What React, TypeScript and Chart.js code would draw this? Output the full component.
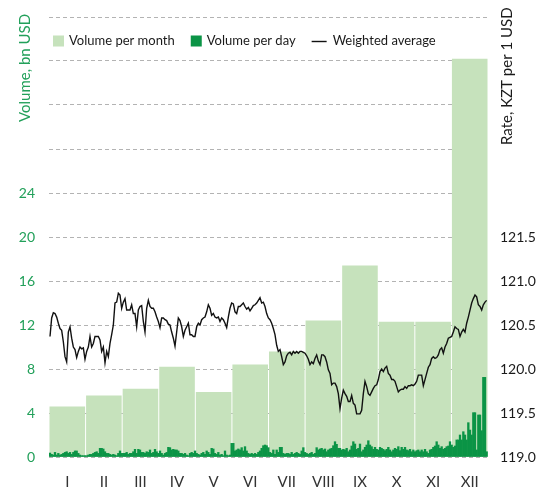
import React, { useEffect, useRef } from 'react';
import { Chart, registerables } from 'chart.js';

Chart.register(...registerables);

const months = ['I', 'II', 'III', 'IV', 'V', 'VI', 'VII', 'VIII', 'IX', 'X', 'XI', 'XII'];
const monthlyVolume = [4.6, 5.6, 6.2, 8.2, 5.9, 8.4, 9.6, 12.4, 17.4, 12.3, 12.3, 36.2];

const dailyVolume = [
  0.36, 0.24, 0.18, 0.42, 0.18, 0.33, 0.18, 0.24, 0.33, 0.42,
  0.48, 0.33, 0.42, 0.24, 0.42, 0.55, 0.55, 0.33, 0.18, 0.12,
  0.12, 0.12, 0.12, 0.18, 0.24, 0.24, 0.33, 0.42, 0.48, 0.33,
  0.79, 0.79, 0.73, 0.48, 0.33, 0.33, 0.24, 0.18, 0.24, 0.18,
  0.12, 0.33, 0.55, 0.33, 0.33, 0.33, 0.42, 0.24, 0.33, 0.33,
  0.48, 0.70, 0.33, 0.70, 0.64, 0.42, 0.42, 0.33, 0.48, 0.42,
  0.64, 0.33, 0.42, 0.70, 0.48, 0.33, 0.55, 0.33, 0.18, 0.33,
  0.42, 0.88, 0.85, 0.64, 0.70, 0.64, 0.64, 0.55, 0.33, 0.33,
  0.24, 0.33, 0.18, 0.12, 0.33, 0.42, 0.33,
  0.55, 0.33, 0.24, 0.18, 0.33, 0.42, 0.24, 0.55, 0.42, 0.24,
  0.79, 0.73, 0.33, 0.24, 0.42, 0.18, 0.24, 0.12, 0.55, 0.18,
  0.12, 0.18, 1.24, 1.24, 0.55, 0.64, 0.73, 0.64, 0.85, 0.55,
  0.94, 0.55, 0.33, 0.24, 0.33, 0.24, 0.33, 0.24, 0.42, 0.55,
  0.79, 1.03, 1.09, 1.03, 0.85, 0.42, 0.33, 0.64, 0.24, 0.64,
  0.42, 0.88, 0.88, 0.33, 0.24, 0.33, 0.33, 0.24, 0.42, 0.24,
  0.33, 0.42, 0.33, 0.24, 0.55, 0.85, 0.42, 0.33, 0.24, 0.33,
  0.42, 0.24, 0.33, 0.85, 0.64, 0.73, 0.79, 0.64, 0.73, 0.48,
  0.64, 0.73, 0.79, 1.03, 1.39, 1.15, 0.79,
  0.79, 0.64, 0.70, 0.64, 0.79, 0.48, 0.64, 1.00, 1.39, 1.18,
  0.70, 0.79, 1.18, 0.48, 0.64, 0.88, 1.09, 1.48, 1.09, 0.94,
  0.70, 0.88, 0.70, 0.64, 0.88, 0.79, 0.70, 0.58, 0.70, 0.88,
  0.64, 0.48, 0.64, 0.79, 0.70, 0.94, 0.58, 0.88, 0.70, 0.88,
  0.64, 0.58, 0.70, 0.48, 0.64, 0.48, 0.58, 0.64, 0.48, 0.64,
  0.48, 0.70, 0.48, 0.33, 0.64, 0.70, 0.88, 1.00, 1.39, 1.09,
  0.79, 0.94, 0.70, 0.79, 0.94, 1.00, 1.39, 1.09, 0.88, 1.00,
  1.55, 1.55, 2.00, 1.55, 2.30, 2.00, 1.55, 3.12, 2.45, 2.00,
  4.03, 4.03, 0.64, 3.82, 3.82, 2.39, 7.24, 7.24, 0.48,
];

const weightedRate = [
  120.37, 120.58, 120.64, 120.63, 120.59, 120.52, 120.46, 120.44, 120.31, 120.14,
  120.08, 120.42, 120.48, 120.35, 120.25, 120.22, 120.13, 120.20, 120.25, 120.23,
  120.24, 120.11, 120.20, 120.25, 120.37, 120.25, 120.29, 120.37, 120.37, 120.37,
  120.33, 120.20, 120.25, 120.07, 120.20, 120.14, 120.29, 120.39, 120.50, 120.75,
  120.76, 120.86, 120.84, 120.69, 120.76, 120.80, 120.67, 120.67, 120.67, 120.73,
  120.63, 120.63, 120.48, 120.67, 120.71, 120.72, 120.54, 120.42, 120.69, 120.78,
  120.71, 120.69, 120.69, 120.65, 120.59, 120.54, 120.47, 120.58, 120.58, 120.56,
  120.55, 120.51, 120.50, 120.42, 120.35, 120.26, 120.42, 120.58, 120.55, 120.48,
  120.37, 120.44, 120.48, 120.52, 120.39, 120.39, 120.37,
  120.37, 120.48, 120.52, 120.50, 120.56, 120.58, 120.59, 120.65, 120.73, 120.69,
  120.61, 120.63, 120.59, 120.58, 120.59, 120.54, 120.58, 120.56, 120.52, 120.47,
  120.59, 120.69, 120.75, 120.74, 120.65, 120.63, 120.71, 120.71, 120.73, 120.75,
  120.71, 120.68, 120.70, 120.66, 120.69, 120.72, 120.73, 120.75, 120.78, 120.81,
  120.75, 120.76, 120.71, 120.63, 120.58, 120.56, 120.52, 120.46, 120.39, 120.27,
  120.20, 120.22, 120.14, 120.05, 120.08, 120.15, 120.18, 120.19, 120.16, 120.20,
  120.18, 120.20, 120.18, 120.20, 120.20, 120.19, 120.18, 120.15, 120.11, 120.05,
  120.08, 120.06, 120.12, 120.16, 120.09, 120.05, 120.16, 120.16, 120.14, 120.08,
  119.99, 119.95, 119.82, 119.84, 119.84, 119.80, 119.72,
  119.55, 119.67, 119.76, 119.72, 119.69, 119.63, 119.63, 119.70, 119.61, 119.59,
  119.49, 119.49, 119.49, 119.53, 119.72, 119.86, 119.80, 119.72, 119.70, 119.74,
  119.78, 119.81, 119.82, 119.88, 119.97, 120.00, 119.97, 120.01, 120.03, 119.95,
  119.93, 119.88, 119.88, 119.86, 119.80, 119.74, 119.76, 119.77, 119.77, 119.80,
  119.78, 119.81, 119.81, 119.82, 119.81, 119.83, 119.86, 119.93, 119.93, 119.93,
  119.81, 119.88, 119.95, 120.02, 120.05, 120.12, 120.14, 120.12, 120.13, 120.16,
  120.22, 120.24, 120.18, 120.25, 120.29, 120.35, 120.36, 120.37, 120.42, 120.48,
  120.46, 120.45, 120.37, 120.42, 120.45, 120.42, 120.52, 120.59, 120.67, 120.75,
  120.80, 120.84, 120.82, 120.73, 120.71, 120.67, 120.73, 120.76, 120.78,
];

const volumeTickMaxLabel = 24;
const rateTickMaxLabel = 121.5;

const LIGHT = '#c6e2bc';
const DARK = '#0b9446';
const GREEN_TEXT = '#22a05a';
const FONT = 'Lato';

const overlayPlugin = {
  id: 'overlay',
  afterDraw(chart: any) {
    const ctx = chart.ctx as CanvasRenderingContext2D;
    ctx.save();
    // axis titles
    ctx.font = `15px ${FONT}`;
    ctx.textBaseline = 'middle';
    ctx.textAlign = 'left';
    ctx.fillStyle = GREEN_TEXT;
    ctx.save();
    ctx.translate(25, 122);
    ctx.rotate(-Math.PI / 2);
    ctx.fillText('Volume, bn USD', 0, 0);
    ctx.restore();
    ctx.fillStyle = '#1a1a1a';
    ctx.save();
    ctx.translate(507, 145);
    ctx.rotate(-Math.PI / 2);
    ctx.fillText('Rate, KZT per 1 USD', 0, 0);
    ctx.restore();

    // legend
    ctx.font = `13px ${FONT}`;
    ctx.fillStyle = '#1a1a1a';
    const y = 41;
    let x = 53;
    const items = [
      { kind: 'box', color: LIGHT, label: 'Volume per month' },
      { kind: 'box', color: DARK, label: 'Volume per day' },
      { kind: 'line', color: '#111', label: 'Weighted average' },
    ];
    for (const it of items) {
      if (it.kind === 'box') {
        ctx.fillStyle = it.color;
        ctx.fillRect(x, y - 5.5, 11, 11);
        x += 16;
      } else {
        ctx.strokeStyle = it.color;
        ctx.lineWidth = 1.4;
        ctx.beginPath();
        ctx.moveTo(x, y + 0.5);
        ctx.lineTo(x + 15, y + 0.5);
        ctx.stroke();
        x += 21;
      }
      ctx.fillStyle = '#1a1a1a';
      ctx.fillText(it.label, x, y);
      x += ctx.measureText(it.label).width + 16;
    }
    ctx.restore();
  },
};

export default function App() {
  const ref = useRef<HTMLCanvasElement | null>(null);

  useEffect(() => {
    if (!ref.current) return;
    const dailyPoints = dailyVolume.map((v, i) => ({ x: i, y: v }));
    const ratePoints = weightedRate.map((v, i) => ({ x: i, y: v }));
    const n = weightedRate.length;
    const chart = new Chart(ref.current, {
      type: 'bar',
      data: {
        labels: months,
        datasets: [
          {
            type: 'line',
            label: 'Weighted average',
            data: ratePoints as any,
            xAxisID: 'xd',
            yAxisID: 'y2',
            borderColor: '#111111',
            borderWidth: 1.4,
            pointRadius: 0,
            tension: 0,
            order: 0,
          } as any,
          {
            type: 'bar',
            label: 'Volume per day',
            data: dailyPoints as any,
            xAxisID: 'xd',
            yAxisID: 'y',
            backgroundColor: DARK,
            barPercentage: 1,
            categoryPercentage: 1,
            grouped: false,
            order: 1,
          } as any,
          {
            type: 'bar',
            label: 'Volume per month',
            data: monthlyVolume,
            xAxisID: 'xm',
            yAxisID: 'y',
            backgroundColor: LIGHT,
            barPercentage: 0.973,
            categoryPercentage: 1,
            grouped: false,
            order: 2,
          } as any,
        ],
      },
      options: {
        animation: false,
        responsive: false,
        layout: { padding: { top: 17, left: 0, right: 0, bottom: 0 } },
        plugins: { legend: { display: false }, tooltip: { enabled: false } },
        scales: {
          xm: {
            type: 'category',
            position: 'bottom',
            offset: true,
            grid: { display: false, drawTicks: false },
            border: { display: false },
            ticks: { color: '#333', font: { family: FONT, size: 15 }, padding: 16, maxRotation: 0 },
            afterFit: (s: any) => { s.height = 35; },
          },
          xd: {
            type: 'linear',
            display: false,
            offset: false,
            grid: { offset: false },
            min: -0.6,
            max: n - 0.2,
          },
          y: {
            position: 'left',
            min: 0,
            max: 40,
            grid: { color: '#b3b3b3', lineWidth: 1, drawTicks: false },
            border: { display: false, dash: [4, 3] },
            ticks: {
              stepSize: 4,
              color: GREEN_TEXT,
              font: { family: FONT, size: 14 },
              padding: 14,
              callback: (v: any) => (Number(v) <= volumeTickMaxLabel ? String(v) : ''),
            },
            afterFit: (s: any) => { s.width = 49; s.paddingTop = 0; s.paddingBottom = 0; },
          },
          y2: {
            position: 'right',
            min: 119,
            max: 124,
            grid: { display: false, drawTicks: false },
            border: { display: false },
            ticks: {
              stepSize: 0.5,
              color: '#1a1a1a',
              font: { family: FONT, size: 14 },
              padding: 12,
              callback: (v: any) => (Number(v) <= rateTickMaxLabel + 1e-9 ? Number(v).toFixed(1) : ''),
            },
            afterFit: (s: any) => { s.width = 55; s.paddingTop = 0; s.paddingBottom = 0; },
          },
        },
      } as any,
      plugins: [overlayPlugin],
    });
    return () => chart.destroy();
  }, []);

  return (
    <div style={{ position: 'fixed', left: 0, top: 0, width: 543, height: 492, background: '#fff' }}>
      <canvas ref={ref} width={543} height={492} style={{ display: 'block' }} />
    </div>
  );
}
